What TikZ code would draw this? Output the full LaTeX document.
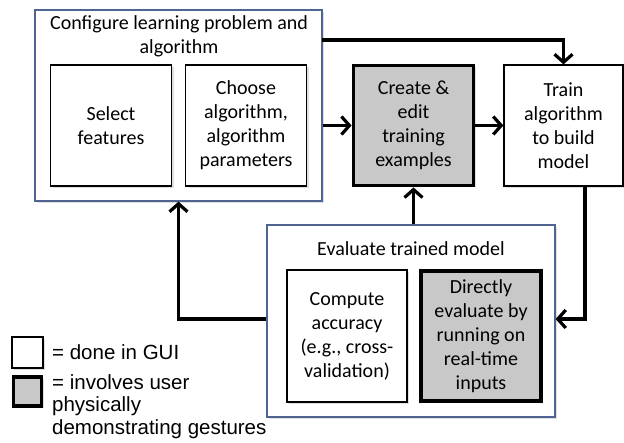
\documentclass[tikz,border=0pt]{standalone}
\usepackage{fontspec}
\setmainfont{Carlito}
\newfontfamily\legendfont{Liberation Sans}
\usetikzlibrary{arrows.meta,shadows}
\definecolor{framecol}{RGB}{80,100,145}
\definecolor{usergrey}{RGB}{200,200,200}

\begin{document}
\begin{tikzpicture}[x=1pt, y=-1pt,
  every node/.style={font=\fontsize{20}{24}\selectfont, align=center, inner sep=0pt},
  frame/.style={draw=framecol, line width=1.2pt, fill=white,
    drop shadow={opacity=0.25, shadow xshift=2pt, shadow yshift=-2pt}},
  gui/.style={draw=black, line width=1.2pt, fill=white,
    drop shadow={opacity=0.25, shadow xshift=2pt, shadow yshift=-2pt}},
  user/.style={draw=black, line width=3.8pt, fill=usergrey,
    drop shadow={opacity=0.25, shadow xshift=2pt, shadow yshift=-2pt}},
  flow/.style={line width=3.2pt, -{Straight Barb[length=8pt, width=18pt]}}]
  \useasboundingbox (0, 0) rectangle (624, 443);

  \node[frame, minimum width=287pt, minimum height=191pt] (cfg) at (178.5, 105.5) {};
  \node (cfgtitle) at (179, 36) {Configure learning problem and\\algorithm};
  \node[gui, minimum width=121pt, minimum height=121pt] (sel) at (111, 125.5) {Select\\features};
  \node[gui, minimum width=121pt, minimum height=121pt] (cho) at (246, 125.5) {Choose\\algorithm,\\algorithm\\parameters};
  \node[user, minimum width=120pt, minimum height=120pt] (cre) at (413.5, 125.5) {Create \&\\edit\\training\\examples};
  \node[gui, minimum width=119pt, minimum height=121pt] (trn) at (563.5, 125.5) {Train\\algorithm\\to build\\model};

  \node[frame, minimum width=288pt, minimum height=192pt] (eva) at (411, 321) {};
  \node (evatitle) at (411, 249) {Evaluate trained model};
  \node[gui, minimum width=120pt, minimum height=132pt] (cmp) at (347, 336) {Compute\\accuracy\\(e.g., cross-\\validation)};
  \node[user, minimum width=120pt, minimum height=130pt] (dir) at (481, 336) {Directly\\evaluate by\\running on\\real-time\\inputs};

  \node[gui, minimum width=31pt, minimum height=31pt] (lgui) at (27.5, 352.5) {};
  \node[user, minimum width=28pt, minimum height=29pt] (luser) at (27.5, 391.5) {};
  \node[anchor=west, font=\legendfont\fontsize{20.5}{22.5}\selectfont] (lguitext) at (52, 352) {= done in GUI};
  \node[anchor=north west, align=left, font=\legendfont\fontsize{20.5}{22.5}\selectfont] (lusertext) at (52, 374) {= involves user\\physically\\demonstrating gestures};

  \coordinate (cfgtop) at (322, 40);
  \draw[flow] (cfgtop) -| (trn.north);
  \draw[flow] (cfg.east |- cre.west) -- (cre.west);
  \draw[flow] (cre.east) -- (trn.west);
  \draw[flow] (cre.south |- eva.north) -- (cre.south);
  \draw[flow] ([xshift=21.5pt]trn.south) |- ([yshift=2pt]eva.east);
  \draw[flow] ([yshift=2pt]eva.west) -| (cfg.south);
\end{tikzpicture}
\end{document}
